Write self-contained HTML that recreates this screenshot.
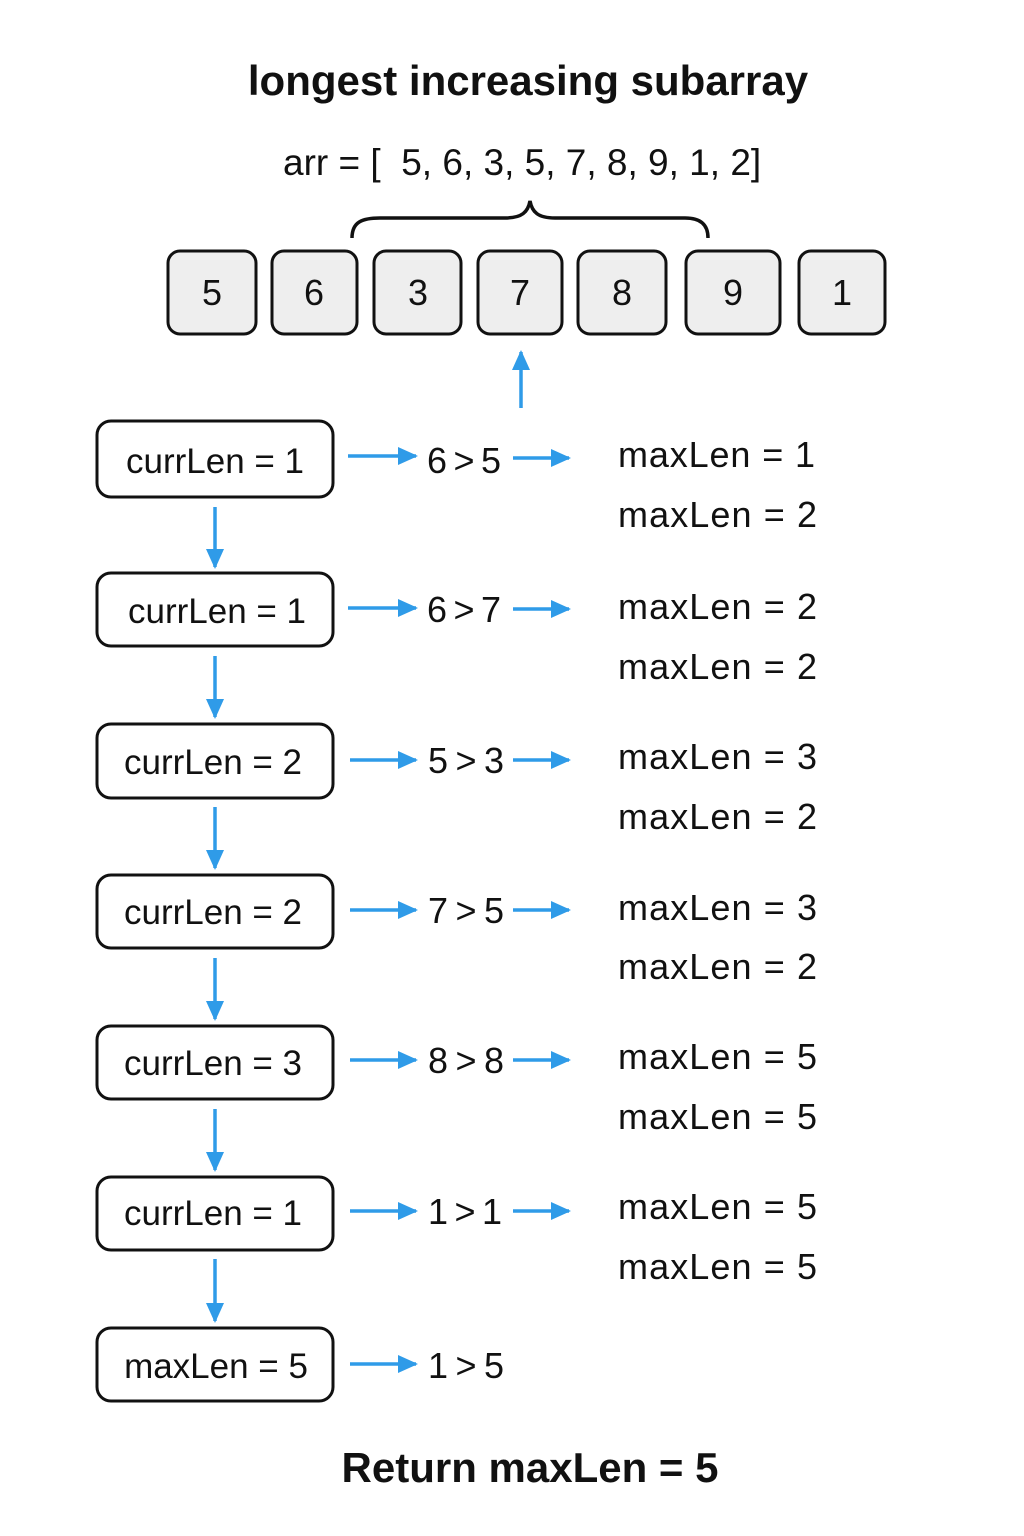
<!DOCTYPE html>
<html><head><meta charset="utf-8"><style>
html,body{margin:0;padding:0;background:#fff}
svg{display:block}
text{font-family:"Liberation Sans",sans-serif;fill:#111}
</style></head><body>
<svg width="1024" height="1536" viewBox="0 0 1024 1536" xmlns="http://www.w3.org/2000/svg">
<defs>
<marker id="ah" markerWidth="20" markerHeight="18" refX="18" refY="9" orient="auto" markerUnits="userSpaceOnUse" viewBox="0 0 20 18">
<path d="M0,0 L20,9 L0,18 z" fill="#2f9be8"/>
</marker>
</defs>
<text x="528" y="95" font-size="42" font-weight="bold" text-anchor="middle">longest increasing subarray</text>
<text x="283" y="175" font-size="37" xml:space="preserve">arr = [  5, 6, 3, 5, 7, 8, 9, 1, 2]</text>
<path d="M352,238 C352,222 362,218 380,218 L505,218 C522,218 528,212 530,201 C532,212 538,218 555,218 L685,218 C700,218 708,224 708,238" fill="none" stroke="#111" stroke-width="3.5"/>
<g stroke="#111" stroke-width="3" fill="#eeeeee">
<rect x="168" y="251" width="88" height="83" rx="12"/>
<rect x="272" y="251" width="85" height="83" rx="12"/>
<rect x="374" y="251" width="87" height="83" rx="12"/>
<rect x="478" y="251" width="84" height="83" rx="12"/>
<rect x="578" y="251" width="88" height="83" rx="12"/>
<rect x="686" y="251" width="94" height="83" rx="12"/>
<rect x="799" y="251" width="86" height="83" rx="12"/>
</g>
<g font-size="36" text-anchor="middle">
<text x="212" y="305">5</text><text x="314" y="305">6</text><text x="418" y="305">3</text>
<text x="520" y="305">7</text><text x="622" y="305">8</text><text x="733" y="305">9</text><text x="842" y="305">1</text>
</g>
<line x1="521" y1="408" x2="521" y2="352" stroke="#2f9be8" stroke-width="3.5" marker-end="url(#ah)"/>
<g stroke="#111" stroke-width="3" fill="#fff">
<rect x="97" y="421" width="236" height="76" rx="14"/>
<rect x="97" y="573" width="236" height="73" rx="14"/>
<rect x="97" y="724" width="236" height="74" rx="14"/>
<rect x="97" y="875" width="236" height="73" rx="14"/>
<rect x="97" y="1026" width="236" height="73" rx="14"/>
<rect x="97" y="1177" width="236" height="73" rx="14"/>
<rect x="97" y="1328" width="236" height="73" rx="14"/>
</g>
<g font-size="35" text-anchor="middle">
<text x="215" y="473">currLen = 1</text>
<text x="217" y="623">currLen = 1</text>
<text x="213" y="774">currLen = 2</text>
<text x="213" y="924">currLen = 2</text>
<text x="213" y="1075">currLen = 3</text>
<text x="213" y="1225">currLen = 1</text>
<text x="216" y="1378">maxLen = 5</text>
</g>
<g stroke="#2f9be8" stroke-width="3.5" marker-end="url(#ah)">
<line x1="215" y1="507" x2="215" y2="567"/>
<line x1="215" y1="656" x2="215" y2="717"/>
<line x1="215" y1="807" x2="215" y2="868"/>
<line x1="215" y1="958" x2="215" y2="1019"/>
<line x1="215" y1="1109" x2="215" y2="1170"/>
<line x1="215" y1="1259" x2="215" y2="1321"/>
<line x1="348" y1="456" x2="416" y2="456"/><line x1="513" y1="458" x2="569" y2="458"/>
<line x1="348" y1="608" x2="416" y2="608"/><line x1="513" y1="609" x2="569" y2="609"/>
<line x1="350" y1="760" x2="416" y2="760"/><line x1="513" y1="760" x2="569" y2="760"/>
<line x1="350" y1="910" x2="416" y2="910"/><line x1="513" y1="910" x2="569" y2="910"/>
<line x1="350" y1="1060" x2="416" y2="1060"/><line x1="513" y1="1060" x2="569" y2="1060"/>
<line x1="350" y1="1211" x2="416" y2="1211"/><line x1="513" y1="1211" x2="569" y2="1211"/>
<line x1="350" y1="1364" x2="416" y2="1364"/>
</g>
<g font-size="36">
<text x="427" y="473" textLength="74">6 &gt; 5</text>
<text x="427" y="622" textLength="74">6 &gt; 7</text>
<text x="428" y="773" textLength="76">5 &gt; 3</text>
<text x="428" y="923" textLength="76">7 &gt; 5</text>
<text x="428" y="1073" textLength="76">8 &gt; 8</text>
<text x="428" y="1224" textLength="74">1 &gt; 1</text>
<text x="428" y="1378" textLength="76">1 &gt; 5</text>
</g>
<g font-size="36">
<text x="618" y="467" textLength="197">maxLen = 1</text><text x="618" y="527" textLength="199">maxLen = 2</text>
<text x="618" y="619" textLength="199">maxLen = 2</text><text x="618" y="679" textLength="199">maxLen = 2</text>
<text x="618" y="769" textLength="199">maxLen = 3</text><text x="618" y="829" textLength="199">maxLen = 2</text>
<text x="618" y="920" textLength="199">maxLen = 3</text><text x="618" y="979" textLength="199">maxLen = 2</text>
<text x="618" y="1069" textLength="199">maxLen = 5</text><text x="618" y="1129" textLength="199">maxLen = 5</text>
<text x="618" y="1219" textLength="199">maxLen = 5</text><text x="618" y="1279" textLength="199">maxLen = 5</text>
</g>
<text x="530" y="1482" font-size="42" font-weight="bold" text-anchor="middle">Return maxLen = 5</text>
</svg>
</body></html>
